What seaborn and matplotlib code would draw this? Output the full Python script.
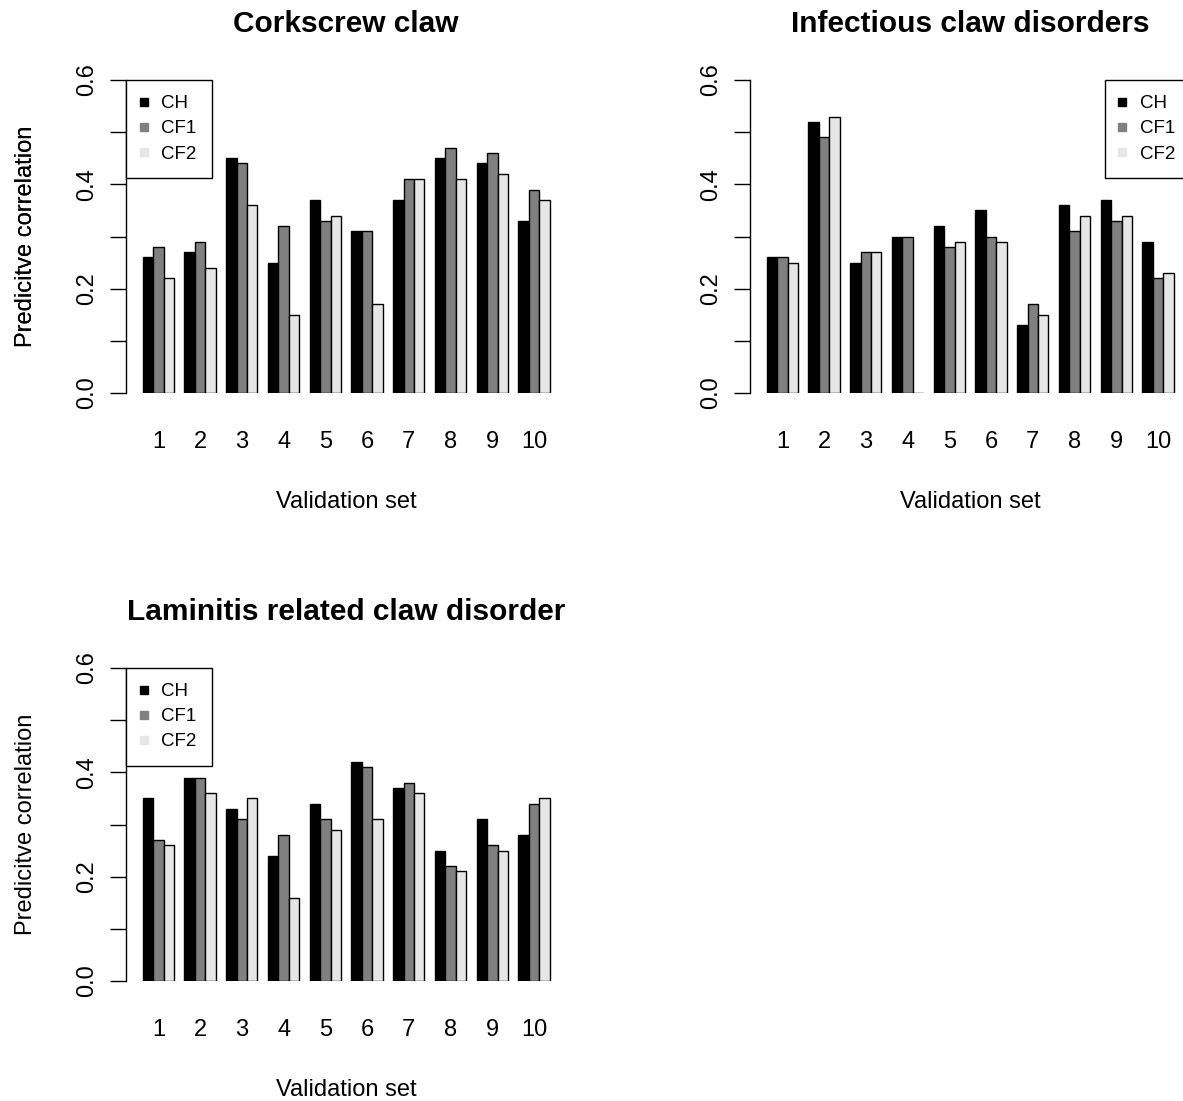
import pandas as pd
import matplotlib
matplotlib.use("Agg")
import matplotlib.pyplot as plt
from matplotlib.lines import Line2D
import seaborn as sns

# 검증 세트 번호
validation_sets = ["1", "2", "3", "4", "5", "6", "7", "8", "9", "10"]
models = ["CH", "CF1", "CF2"]
bar_colors = ["#000000", "#808080", "#e6e6e6"]

# Corkscrew claw
corkscrew_ch = [0.26, 0.27, 0.45, 0.25, 0.37, 0.31, 0.37, 0.45, 0.44, 0.33]
corkscrew_cf1 = [0.28, 0.29, 0.44, 0.32, 0.33, 0.31, 0.41, 0.47, 0.46, 0.39]
corkscrew_cf2 = [0.22, 0.24, 0.36, 0.15, 0.34, 0.17, 0.41, 0.41, 0.42, 0.37]

# Infectious claw disorders
infectious_ch = [0.26, 0.52, 0.25, 0.30, 0.32, 0.35, 0.13, 0.36, 0.37, 0.29]
infectious_cf1 = [0.26, 0.49, 0.27, 0.30, 0.28, 0.30, 0.17, 0.31, 0.33, 0.22]
infectious_cf2 = [0.25, 0.53, 0.27, 0.00, 0.29, 0.29, 0.15, 0.34, 0.34, 0.23]

# Laminitis related claw disorder
laminitis_ch = [0.35, 0.39, 0.33, 0.24, 0.34, 0.42, 0.37, 0.25, 0.31, 0.28]
laminitis_cf1 = [0.27, 0.39, 0.31, 0.28, 0.31, 0.41, 0.38, 0.22, 0.26, 0.34]
laminitis_cf2 = [0.26, 0.36, 0.35, 0.16, 0.29, 0.31, 0.36, 0.21, 0.25, 0.35]

y_ticks = [0.0, 0.1, 0.2, 0.3, 0.4, 0.5, 0.6]
y_tick_labels = ["0.0", "", "0.2", "", "0.4", "", "0.6"]

W, H = 1183, 1101


def make_long_df(ch, cf1, cf2):
    """세 모델 값을 long format 데이터프레임으로 변환"""
    rows = []
    for name, vals in zip(models, [ch, cf1, cf2]):
        for s, v in zip(validation_sets, vals):
            rows.append({"set": s, "model": name, "value": v})
    return pd.DataFrame(rows)


def draw_panel(fig, rect_px, title, df, legend_loc):
    left, top, right, bottom = rect_px
    ax = fig.add_axes([left / W, (H - bottom) / H, (right - left) / W, (bottom - top) / H])
    ax_h = bottom - top
    ax_w = right - left

    sns.barplot(data=df, x="set", y="value", hue="model", order=validation_sets,
                hue_order=models, palette=bar_colors, saturation=1, width=0.75,
                edgecolor="black", linewidth=1.0, errorbar=None, ax=ax, legend=False)

    ax.set_xlim(-0.765, 9.765)
    ax.set_ylim(0, 0.6)

    # 축 스타일 (R barplot 느낌)
    for s in ["top", "right", "bottom"]:
        ax.spines[s].set_visible(False)
    ax.spines["left"].set_linewidth(1.0)
    ax.spines["left"].set_color("black")

    ax.set_yticks(y_ticks)
    ax.set_yticklabels(y_tick_labels, rotation=90, va="center", ha="right")
    ax.tick_params(axis="y", left=True, direction="out", length=11.5, width=1.0,
                   pad=9, labelsize=17, color="black", labelcolor="black")
    ax.tick_params(axis="x", bottom=False, length=0, pad=27, labelsize=17, labelcolor="black")

    ax.set_xlabel("Validation set", fontsize=17, va="baseline", color="black")
    ax.xaxis.set_label_coords(0.5, -(115) / ax_h)
    ax.set_ylabel("Predicitve correlation", fontsize=17, va="baseline", color="black")
    ax.yaxis.set_label_coords((32 - left) / ax_w, 0.5)

    ax.set_title(title, fontsize=21.5, fontweight="bold", y=1 + 48 / ax_h,
                 va="baseline", pad=0, color="black")

    # 범례
    handles = [Line2D([0], [0], marker="s", linestyle="none", markersize=5.5,
                      markerfacecolor=c, markeredgecolor=c) for c in bar_colors]
    anchor = (0, 1) if legend_loc == "upper left" else (1, 1)
    leg = ax.legend(handles, models, loc=legend_loc, bbox_to_anchor=anchor,
                    borderaxespad=0, fancybox=False, framealpha=1, edgecolor="black",
                    fontsize=13.5, handlelength=0.3, handletextpad=0.77,
                    borderpad=0.8, labelspacing=0.43)
    leg.get_frame().set_linewidth(1.0)
    for t in leg.get_texts():
        t.set_color("black")
    return ax


sns.set_theme(style="white")
plt.rcParams["font.family"] = ["Liberation Sans", "DejaVu Sans"]
plt.rcParams["text.color"] = "black"

fig = plt.figure(figsize=(W / 100, H / 100), dpi=100)

draw_panel(fig, (126.4, 80, 566, 393), "Corkscrew claw",
           make_long_df(corkscrew_ch, corkscrew_cf1, corkscrew_cf2), "upper left")
draw_panel(fig, (750.4, 80, 1190, 393), "Infectious claw disorders",
           make_long_df(infectious_ch, infectious_cf1, infectious_cf2), "upper right")
draw_panel(fig, (126.4, 668, 566, 981), "Laminitis related claw disorder",
           make_long_df(laminitis_ch, laminitis_cf1, laminitis_cf2), "upper left")

fig.savefig("out.png", dpi=100, facecolor="white")
